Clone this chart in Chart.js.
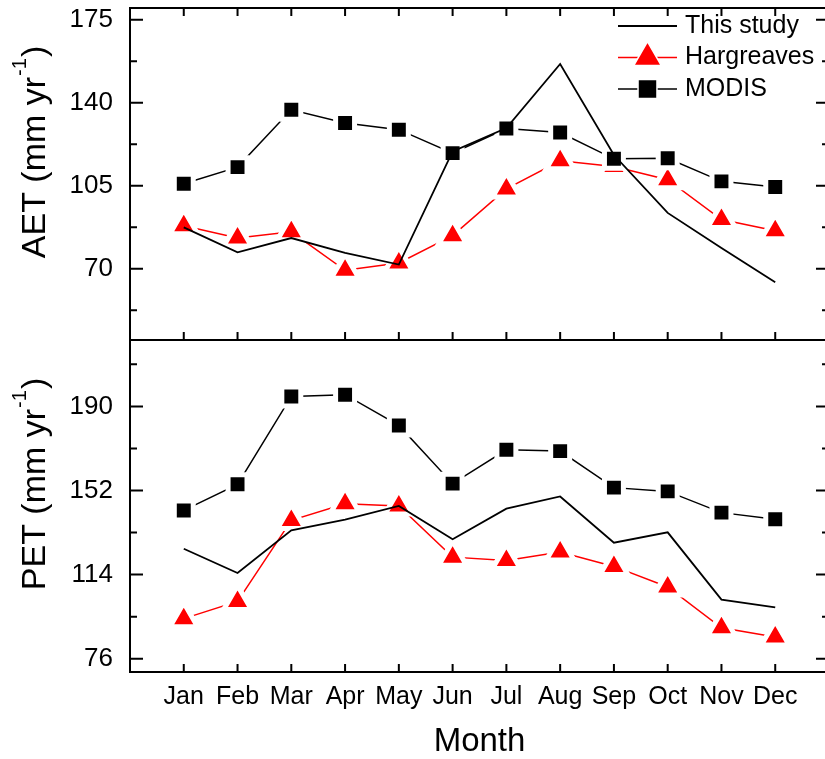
<!DOCTYPE html>
<html>
<head>
<meta charset="utf-8">
<title>AET and PET by month</title>
<script src="https://cdn.jsdelivr.net/npm/chart.js@4.4.0/dist/chart.umd.min.js"></script>
<style>
    html, body { margin: 0; padding: 0; background: #fff; overflow: hidden; }
    body { width: 825px; height: 759px; position: relative; }
    canvas { position: absolute; left: 0; }
    #aet-canvas { top: -25px; }
    #pet-canvas { top: 307px; }
</style>
</head>
<body>
<canvas id="aet-canvas" width="835" height="398"></canvas>
<canvas id="pet-canvas" width="835" height="452"></canvas>
<script>
// Data
const months = ['Jan', 'Feb', 'Mar', 'Apr', 'May', 'Jun', 'Jul', 'Aug', 'Sep', 'Oct', 'Nov', 'Dec'];

const aetThisStudy = [87.5, 77.0, 83.0, 76.7, 71.8, 119.5, 129.4, 156.4, 118.0, 93.6, 78.8, 64.4];
const aetHargreaves = [88.2, 83.0, 85.6, 69.4, 72.5, 84.0, 103.7, 115.6, 113.2, 107.6, 90.8, 86.1];
const aetModis = [105.9, 112.9, 137.1, 131.5, 128.7, 118.8, 129.2, 127.5, 116.4, 116.6, 106.9, 104.5];

const petThisStudy = [125.7, 114.7, 134.0, 138.8, 145.0, 130.0, 143.8, 149.3, 128.4, 133.1, 102.7, 99.2];
const petHargreaves = [94.1, 101.9, 138.5, 146.0, 145.0, 121.9, 120.4, 124.2, 117.7, 108.4, 90.0, 85.8];
const petModis = [143.0, 154.8, 194.5, 195.3, 181.4, 155.1, 170.4, 169.8, 153.3, 151.6, 142.0, 139.0];

const aetTicks = [70, 105, 140, 175];
const petTicks = [76, 114, 152, 190];
const aetRange = [40, 180];
const petRange = [70, 220];

const FONT = "'Liberation Sans', Arial, sans-serif";

function toPoints(values) {
    return values.map((v, i) => ({ x: i + 1, y: v }));
}

function makeDatasets(study, harg, modis) {
    return [
        {
            label: 'This study', data: toPoints(study), order: 0,
            borderColor: '#000', borderWidth: 1.8, pointRadius: 0
        },
        {
            label: 'Hargreaves', data: toPoints(harg), order: 2,
            borderColor: '#ff0000', borderWidth: 1.5,
            pointStyle: 'triangle', pointRadius: 16,
            pointBackgroundColor: '#ff0000', pointBorderColor: '#fff', pointBorderWidth: 5
        },
        {
            label: 'MODIS', data: toPoints(modis), order: 1,
            borderColor: '#000', borderWidth: 1.5,
            pointStyle: 'rect', pointRadius: 13.4,
            pointBackgroundColor: '#000', pointBorderColor: '#fff', pointBorderWidth: 5
        }
    ];
}

// Box, inward ticks on all four sides
const framePlugin = {
    id: 'frame',
    afterDraw(chart, args, opts) {
        const { ctx, chartArea: a, scales } = chart;
        const x = scales.x, y = scales.y;
        ctx.save();
        ctx.strokeStyle = '#000';
        ctx.lineWidth = 2;
        ctx.strokeRect(a.left, a.top, a.right - a.left, a.bottom - a.top);
        ctx.beginPath();
        months.forEach((m, i) => {
            const px = x.getPixelForValue(i + 1);
            if (opts.topTicks) { ctx.moveTo(px, a.top); ctx.lineTo(px, a.top + 8); }
            ctx.moveTo(px, a.bottom); ctx.lineTo(px, a.bottom - 8);
        });
        const step = opts.ticks[1] - opts.ticks[0];
        opts.ticks.forEach(v => {
            const py = y.getPixelForValue(v);
            ctx.moveTo(a.left, py); ctx.lineTo(a.left + 13, py);
            ctx.moveTo(a.right, py); ctx.lineTo(a.right - 13, py);
        });
        for (let v = opts.ticks[0] - step / 2; v < y.max; v += step) {
            if (v <= y.min) continue;
            const py = y.getPixelForValue(v);
            ctx.moveTo(a.left, py); ctx.lineTo(a.left + 7, py);
            ctx.moveTo(a.right, py); ctx.lineTo(a.right - 7, py);
        }
        ctx.stroke();
        ctx.restore();
    }
};

// Axis titles with a superscript unit
const titlePlugin = {
    id: 'titles',
    afterDraw(chart, args, opts) {
        const { ctx, chartArea: a } = chart;
        ctx.save();
        ctx.fillStyle = '#000';
        ctx.textBaseline = 'alphabetic';
        const t = opts.y;
        const mainFont = '34px ' + FONT, supFont = '20px ' + FONT;
        ctx.font = mainFont;
        const w1 = ctx.measureText(t.main).width;
        const w3 = ctx.measureText(t.tail).width;
        ctx.font = supFont;
        const w2 = ctx.measureText(t.sup).width;
        const start = -(w1 + w2 + w3) / 2;
        ctx.translate(a.left - 85, a.top + 145);
        ctx.rotate(-Math.PI / 2);
        ctx.textAlign = 'left';
        ctx.font = mainFont;
        ctx.fillText(t.main, start, 0);
        ctx.fillText(t.tail, start + w1 + w2 + 2, 0);
        ctx.font = supFont;
        ctx.fillText(t.sup, start + w1 + 1, -19);
        ctx.setTransform(1, 0, 0, 1, 0, 0);
        if (opts.x) {
            ctx.font = '33px ' + FONT;
            ctx.textAlign = 'center';
            ctx.fillText(opts.x, (a.left + a.right) / 2, a.bottom + 79);
        }
        ctx.restore();
    }
};

// Legend in the top right of the upper panel
const legendPlugin = {
    id: 'boxLegend',
    afterDraw(chart, args, opts) {
        if (!opts.show) return;
        const { ctx, chartArea: a } = chart;
        ctx.save();
        ctx.font = '25px ' + FONT;
        ctx.textBaseline = 'middle';
        ctx.textAlign = 'left';
        chart.data.datasets.forEach((ds, i) => {
            const y = a.top + 18 + i * 31.5;
            const x0 = a.left + 488, x1 = x0 + 59;
            ctx.strokeStyle = ds.borderColor;
            ctx.lineWidth = ds.borderWidth;
            ctx.beginPath();
            ctx.moveTo(x0, y); ctx.lineTo(x1, y);
            ctx.stroke();
            if (ds.pointRadius > 0) {
                ctx.fillStyle = ds.pointBackgroundColor;
                ctx.strokeStyle = ds.pointBorderColor;
                Chart.helpers.drawPoint(ctx, {
                    pointStyle: ds.pointStyle, rotation: 0,
                    radius: ds.pointRadius, borderWidth: ds.pointBorderWidth
                }, (x0 + x1) / 2, y);
            }
            ctx.fillStyle = '#000';
            ctx.fillText(ds.label, a.left + 555, y);
        });
        ctx.restore();
    }
};

function panelScales(range, ticks, showX) {
    return {
        x: {
            type: 'linear', min: 0, max: months.length + 1,
            display: showX,
            grid: { display: false, drawTicks: false },
            border: { display: false },
            afterBuildTicks: s => { s.ticks = months.map((m, i) => ({ value: i + 1 })); },
            afterFit: s => { if (showX) s.height = 87; },
            ticks: {
                autoSkip: false, maxRotation: 0, padding: 10, color: '#000',
                font: { family: FONT, size: 25 },
                callback: v => months[v - 1]
            }
        },
        y: {
            min: range[0], max: range[1],
            grid: { display: false, drawTicks: false },
            border: { display: false },
            afterBuildTicks: s => { s.ticks = ticks.map(v => ({ value: v })); },
            afterFit: s => { s.width = 130; },
            ticks: {
                padding: 17, color: '#000',
                font: { family: FONT, size: 26 }
            }
        }
    };
}

function createPanel(id, datasets, range, ticks, opts) {
    const ctx = document.getElementById(id).getContext('2d');
    return new Chart(ctx, {
        type: 'line',
        data: { datasets },
        options: {
            responsive: false,
            animation: false,
            events: [],
            layout: { padding: opts.padding, autoPadding: false },
            scales: panelScales(range, ticks, opts.showX),
            plugins: {
                legend: { display: false },
                tooltip: { enabled: false },
                frame: { ticks, topTicks: opts.topTicks },
                titles: { y: opts.yTitle, x: opts.xTitle },
                boxLegend: { show: opts.legend }
            }
        },
        plugins: [framePlugin, titlePlugin, legendPlugin]
    });
}

document.addEventListener('DOMContentLoaded', () => {
    // canvases are shifted so the padding clears the tick label overhang
    createPanel('aet-canvas', makeDatasets(aetThisStudy, aetHargreaves, aetModis), aetRange, aetTicks, {
        padding: { top: 33, right: 6, bottom: 33, left: 0 },
        showX: false, topTicks: true, legend: true,
        yTitle: { main: 'AET (mm yr', sup: '-1', tail: ')' }
    });
    createPanel('pet-canvas', makeDatasets(petThisStudy, petHargreaves, petModis), petRange, petTicks, {
        padding: { top: 33, right: 6, bottom: 0, left: 0 },
        showX: true, topTicks: false, legend: false,
        yTitle: { main: 'PET (mm yr', sup: '-1', tail: ')' },
        xTitle: 'Month'
    });
});
</script>
</body>
</html>
